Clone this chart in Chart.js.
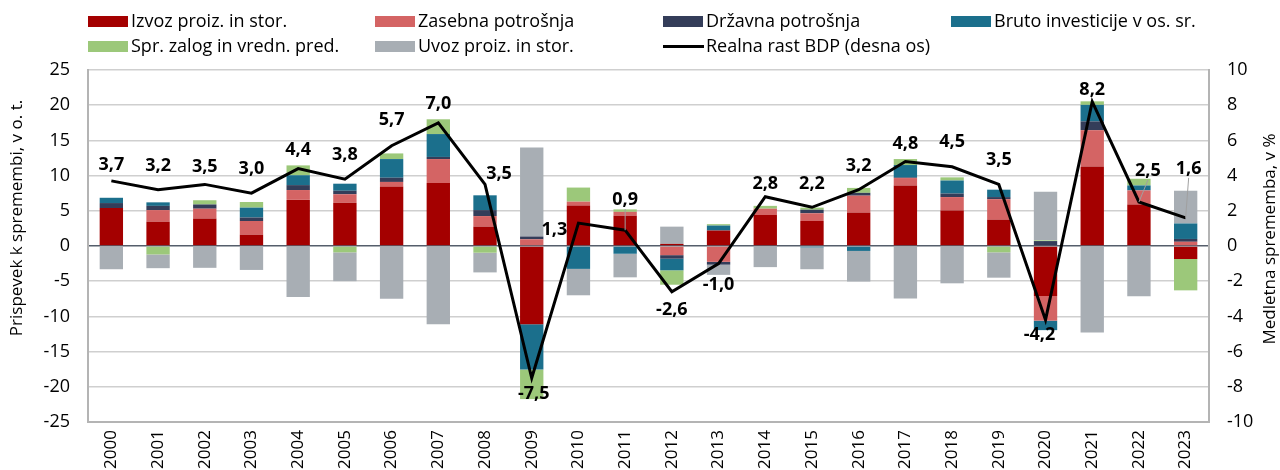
<!DOCTYPE html>
<html>
<head>
<meta charset="utf-8">
<script src="https://cdn.jsdelivr.net/npm/chart.js@4/dist/chart.umd.min.js"></script>
<style>
html,body{margin:0;padding:0;background:#fff;}
#wrap{position:relative;width:1280px;height:470px;}
</style>
</head>
<body>
<div id="wrap"><canvas id="c" width="1280" height="470"></canvas></div>
<script>
// ---- DATA ----
const years = ["2000","2001","2002","2003","2004","2005","2006","2007","2008","2009","2010","2011","2012","2013","2014","2015","2016","2017","2018","2019","2020","2021","2022","2023"];
const izvoz   = [5.4, 3.45, 3.9, 1.6, 6.55, 6.15, 8.4, 8.95, 2.75, -11.1, 5.75, 4.3, 0.3, 2.2, 4.4, 3.55, 4.75, 8.6, 5.05, 3.75, -7.1, 11.3, 5.9, -1.85];
const zasebna = [0, 1.65, 1.4, 1.95, 1.4, 1.2, 0.7, 3.4, 1.5, 0.95, 0.55, 0.55, -1.3, -2.25, 0.9, 1.1, 2.4, 1.05, 1.9, 2.9, -3.5, 5.15, 2.0, 0.6];
const drzavna = [0.7, 0.6, 0.6, 0.5, 0.7, 0.5, 0.6, 0.3, 0.85, 0.4, 0, 0, -0.5, -0.4, 0, 0.5, 0.4, 0.1, 0.5, 0.3, 0.7, 1.25, 0, 0.4];
const bruto   = [0.75, 0.5, 0, 1.4, 1.4, 1.0, 2.65, 3.25, 2.1, -6.45, -3.25, -1.1, -1.65, 0.7, 0, -0.2, -0.7, 1.75, 1.85, 1.05, -1.35, 2.35, 0.7, 2.2];
const zalog   = [0, -1.2, 0.6, 0.8, 1.4, -0.9, 0.8, 2.1, -0.95, -4.2, 2.0, 0.35, -2.05, 0.2, 0.4, 0.3, 0.7, 0.85, 0.45, -0.9, 0.1, 0.5, 0.95, -4.45];
const uvoz    = [-3.3, -1.95, -3.1, -3.4, -7.25, -4.1, -7.5, -11.1, -2.8, 12.65, -3.75, -3.35, 2.45, -1.45, -3.0, -3.1, -4.35, -7.45, -5.3, -3.6, 6.9, -12.3, -7.15, 4.65];
const bdp     = [3.7, 3.2, 3.5, 3.0, 4.4, 3.8, 5.7, 7.0, 3.5, -7.5, 1.3, 0.9, -2.6, -1.0, 2.8, 2.2, 3.2, 4.8, 4.5, 3.5, -4.2, 8.2, 2.5, 1.6];
const seriesLabels = ["Izvoz proiz. in stor.","Zasebna potrošnja","Državna potrošnja","Bruto investicije v os. sr.","Spr. zalog in vredn. pred.","Uvoz proiz. in stor.","Realna rast BDP (desna os)"];

// ---- STYLE ----
const colors = ["#a40000","#d46464","#343d59","#1b6f8c","#9cc87a","#a8aeb4","#000000"];
// label offsets (dx, dy) from line point, in pixels
const labelOffsets = [[0,-16],[0,-24],[0,-18],[0,-24],[0,-19],[0,-24],[0,-26],[0,-19],[14,-11],[2,16],[-24,7],[0,-30],[0,18],[0,21],[0,-13],[0,-23],[0,-24],[0,-18],[0,-25],[0,-25],[-6,15],[0,-12],[9,-31],[3,-49]];
const FONT = "'Open Sans', sans-serif";

Chart.defaults.font.family = FONT;
Chart.defaults.font.size = 18;
Chart.defaults.color = "#000";

const barSeries = [izvoz, zasebna, drzavna, bruto, zalog, uvoz];
const datasets = barSeries.map((d,i)=>({
  type:'bar', label:seriesLabels[i], data:d, backgroundColor:colors[i],
  yAxisID:'y', stack:'s', order:1, barPercentage:0.5, categoryPercentage:1.0,
  borderWidth:0
}));
datasets.push({
  type:'line', label:seriesLabels[6], data:bdp, borderColor:'#000', backgroundColor:'#000',
  borderWidth:3, pointRadius:0, tension:0, yAxisID:'y1', order:0
});

const customPlugin = {
  id:'custom',
  afterDatasetsDraw(chart){
    const ctx = chart.ctx;
    const meta = chart.getDatasetMeta(6);
    ctx.save();
    ctx.font = "bold 18px " + FONT;
    ctx.textAlign = 'center';
    ctx.textBaseline = 'middle';
    meta.data.forEach((pt,i)=>{
      const [dx,dy] = labelOffsets[i];
      const lx = pt.x+dx, ly = pt.y+dy;
      if (dy < -28){
        ctx.strokeStyle = '#a0a0a0'; ctx.lineWidth = 1;
        ctx.beginPath(); ctx.moveTo(pt.x, pt.y); ctx.lineTo(lx, ly+9); ctx.stroke();
      }
      ctx.fillStyle = '#000';
      ctx.fillText(String(bdp[i].toFixed(1)).replace('.',','), lx, ly);
    });
    ctx.restore();
  },
  afterDraw(chart){
    const ctx = chart.ctx;
    ctx.save();
    // axis titles
    ctx.font = "17px " + FONT;
    ctx.fillStyle = '#000';
    ctx.textAlign='center'; ctx.textBaseline='middle';
    ctx.save(); ctx.translate(17,218); ctx.rotate(-Math.PI/2); ctx.fillText("Prispevek k spremembi, v o. t.",0,0); ctx.restore();
    ctx.save(); ctx.translate(1270,239); ctx.rotate(-Math.PI/2); ctx.fillText("Medletna sprememba, v %",0,0); ctx.restore();
    // legend
    ctx.font = "18px " + FONT;
    const cols = [88,375,663,951];
    const rows = [21.5,46.5];
    ctx.textAlign='left';
    for (let i=0;i<7;i++){
      const x = cols[i%4], y = rows[Math.floor(i/4)];
      if (i<6){
        ctx.fillStyle = colors[i];
        ctx.fillRect(x, y-5.5, 40, 11);
      } else {
        ctx.fillStyle = '#000';
        ctx.fillRect(x, y-1.5, 41, 3);
      }
      ctx.fillStyle='#000';
      ctx.fillText(seriesLabels[i], x+43, y);
    }
    ctx.restore();
  }
};

new Chart(document.getElementById('c'), {
  data:{ labels:years, datasets },
  options:{
    responsive:false, animation:false,
    layout:{ padding:{ top:70, left:0, right:0, bottom:0 } },
    plugins:{ legend:{display:false}, tooltip:{enabled:false} },
    scales:{
      x:{
        stacked:true,
        grid:{display:false, drawTicks:false},
        border:{display:true, color:'#b4b4b4', width:2},
        ticks:{ minRotation:90, maxRotation:90, padding:8, font:{size:17} },
        afterFit(s){ s.height = 48; }
      },
      y:{
        stacked:true, position:'left', min:-25, max:25,
        ticks:{ stepSize:5, padding:18, font:{size:18} },
        grid:{ drawTicks:false, lineWidth:1.5,
          color:(c)=> c.tick && c.tick.value===0 ? '#555e6b' : '#cfcfcf' },
        border:{display:true, color:'#b4b4b4', width:2},
        afterFit(s){ s.width = 88; }
      },
      y1:{
        position:'right', min:-10, max:10,
        ticks:{ stepSize:2, padding:18, font:{size:18} },
        grid:{ display:false, drawTicks:false },
        border:{display:true, color:'#b4b4b4', width:2},
        afterFit(s){ s.width = 71; }
      }
    }
  },
  plugins:[customPlugin]
});
</script>
</body>
</html>
